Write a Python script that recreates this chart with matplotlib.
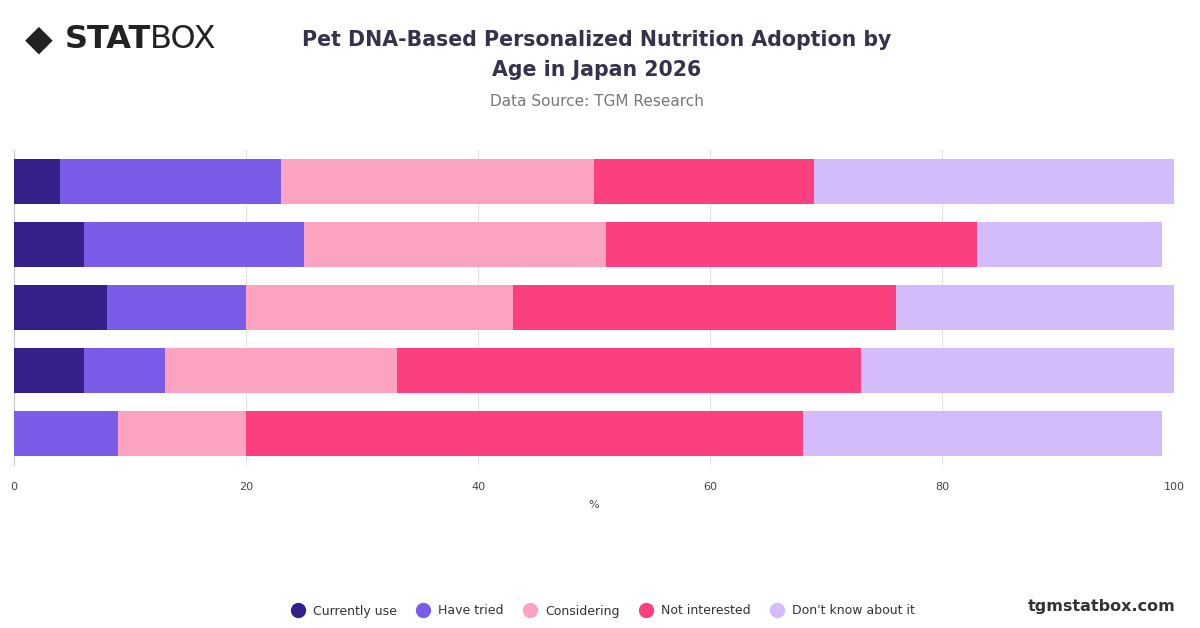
import matplotlib
matplotlib.use("Agg")
import matplotlib.pyplot as plt
import numpy as np

categories = ["Row 1", "Row 2", "Row 3", "Row 4", "Row 5"]
series_names = ["Currently use", "Have tried", "Considering", "Not interested", "Don't know about it"]
currently_use = [4, 6, 8, 6, 0]
have_tried = [19, 19, 12, 7, 9]
considering = [27, 26, 23, 20, 11]
not_interested = [19, 32, 33, 40, 48]
dont_know = [31, 16, 24, 27, 31]
colors = ["#35208a", "#7b5ce8", "#fca3c2", "#fc3f7e", "#d4bbfa"]

fig = plt.figure(figsize=(12, 6.28), dpi=100)
ax = fig.add_axes([14/1200, 1-465/628, 1160/1200, 315/628])
y = np.arange(len(categories))
left = np.zeros(len(categories))
for name, vals, c in zip(series_names, [currently_use, have_tried, considering, not_interested, dont_know], colors):
    ax.barh(y, vals, left=left, color=c, height=0.7, label=name, zorder=3)
    left += np.array(vals)
ax.set_xlim(0, 100)
ax.set_ylim(len(categories)-0.5, -0.5)
ax.set_yticks([])
ax.set_xticks([0, 20, 40, 60, 80, 100])
ax.tick_params(axis='x', length=0, labelsize=8, colors="#444444", pad=12)
ax.grid(axis='x', color="#e0e0e0", zorder=0)
for s in ["top", "right", "bottom"]:
    ax.spines[s].set_visible(False)
ax.spines["left"].set_color("#cccccc")
ax.set_xlabel("%", fontsize=8, color="#444444", labelpad=6)

fig.text(0.4975, 1-55/628, "Pet DNA-Based Personalized Nutrition Adoption by\nAge in Japan 2026",
         ha="center", va="center", fontsize=14.8, fontweight="bold", color="#33334d", linespacing=1.65)
fig.text(0.4975, 1-101/628, "Data Source: TGM Research", ha="center", va="center", fontsize=11, color="#777777")
fig.text(25/1200, 1-40/628, "◆", ha="left", va="center", fontsize=26, color="#222222")
fig.text(65/1200, 1-40/628, "STAT", ha="left", va="center", fontsize=23, fontweight="heavy", color="#222222")
fig.text(150/1200, 1-40/628, "BOX", ha="left", va="center", fontsize=23, color="#222222")
fig.text(1175/1200, 1-607/628, "tgmstatbox.com", ha="right", va="center", fontsize=11.5, fontweight="bold", color="#333333")

handles = [plt.Line2D([], [], marker='o', ls='', markersize=10, color=c) for c in colors]
fig.legend(handles, series_names, loc="center", bbox_to_anchor=(0.5, 1-611/628), ncol=5, frameon=False,
           fontsize=9, handletextpad=0.2, columnspacing=1.1, labelcolor="#333333")
fig.savefig("out.png", dpi=100)
